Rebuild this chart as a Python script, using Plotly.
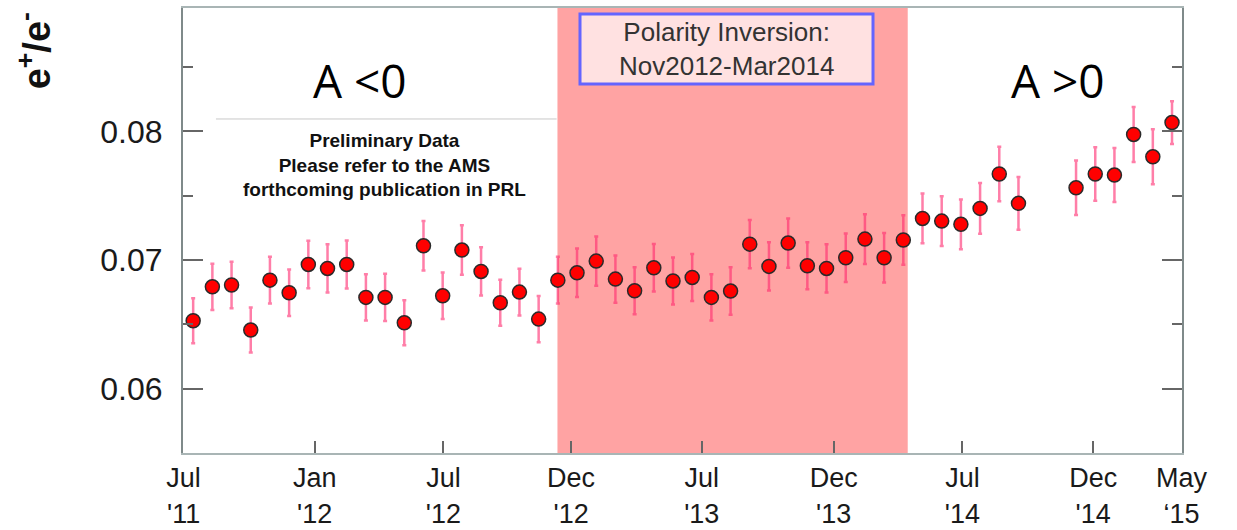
import plotly.graph_objects as go

# Bartels rotation number of each measurement (two rotations missing)
bartels = [2426, 2427, 2428, 2429, 2430, 2431, 2432, 2433, 2434, 2435,
           2436, 2437, 2438, 2439, 2440, 2441, 2442, 2443, 2444, 2445,
           2446, 2447, 2448, 2449, 2450, 2451, 2452, 2453, 2454, 2455,
           2456, 2457, 2458, 2459, 2460, 2461, 2462, 2463, 2464, 2465,
           2466, 2467, 2468, 2469, 2472, 2473, 2474, 2475, 2476, 2477]

# positron / electron ratio
ratio = [0.06528, 0.06792, 0.06806, 0.06456, 0.06844, 0.06746, 0.06966, 0.06935, 0.06966, 0.06710,
         0.06710, 0.06512, 0.07111, 0.06722, 0.07078, 0.06912, 0.06668, 0.06751, 0.06541, 0.06844,
         0.06901, 0.06992, 0.06852, 0.06761, 0.06940, 0.06838, 0.06865, 0.06710, 0.06759, 0.07124,
         0.06951, 0.07132, 0.06956, 0.06935, 0.07018, 0.07163, 0.07018, 0.07156, 0.07324, 0.07303,
         0.07278, 0.07402, 0.07669, 0.07441, 0.07562, 0.07669, 0.07661, 0.07977, 0.07803, 0.08069]

ratio_err = [0.00175, 0.00180, 0.00181, 0.00175, 0.00181, 0.00181, 0.00185, 0.00188, 0.00187, 0.00179,
             0.00184, 0.00175, 0.00192, 0.00181, 0.00192, 0.00188, 0.00179, 0.00181, 0.00179, 0.00181,
             0.00189, 0.00192, 0.00183, 0.00183, 0.00185, 0.00183, 0.00183, 0.00179, 0.00185, 0.00188,
             0.00187, 0.00192, 0.00183, 0.00188, 0.00189, 0.00193, 0.00192, 0.00193, 0.00194, 0.00194,
             0.00194, 0.00197, 0.00212, 0.00205, 0.00212, 0.00208, 0.00210, 0.00214, 0.00214, 0.00166]

# x tick positions (Bartels rotation units) and labels
tick_vals = [2425.50, 2432.33, 2439.04, 2445.69, 2452.50, 2459.37, 2466.08, 2472.89, 2477.49]
tick_text = ["Jul<br>'11", "Jan<br>'12", "Jul<br>'12", "Dec<br>'12", "Jul<br>'13",
             "Dec<br>'13", "Jul<br>'14", "Dec<br>'14", "May<br>\u201815"]

# polarity inversion period (Bartels rotation units)
inversion_start = 2444.98
inversion_end = 2463.23

x_range = [2425.47, 2477.52]
y_range = [0.0550, 0.0896]

fig = go.Figure()

fig.add_shape(type="rect", xref="x", yref="paper",
              x0=inversion_start, x1=inversion_end, y0=0, y1=1,
              fillcolor="#ffa3a3", line=dict(width=0), layer="below")

fig.add_trace(go.Scatter(
    x=bartels, y=ratio, mode="markers",
    marker=dict(symbol="circle", size=14, color="#ff0000",
                line=dict(color="#2a2a2a", width=1.5)),
    error_y=dict(type="data", array=ratio_err, visible=True,
                 color="rgba(255,40,110,0.6)", thickness=2.5, width=2),
    showlegend=False,
))

# "Preliminary Data" box top edge
fig.add_shape(type="line", xref="paper", yref="paper",
              x0=0.033, x1=0.374, y0=0.7506, y1=0.7506,
              line=dict(color="#c8c8c8", width=1))

fig.add_annotation(xref="paper", yref="paper", x=0.2022, y=0.648,
                   text="<b>Preliminary Data<br>Please refer to the AMS<br>forthcoming publication in PRL</b>",
                   showarrow=False, xanchor="center", yanchor="middle", align="center",
                   font=dict(family="Liberation Sans", size=19, color="#111111"))

# Polarity inversion box
fig.add_shape(type="rect", xref="paper", yref="paper",
              x0=0.3974, x1=0.6907, y0=0.8292, y1=0.9865,
              fillcolor="#ffe1e1", line=dict(color="#6464ff", width=3))
fig.add_annotation(xref="paper", yref="paper", x=0.5445, y=0.908,
                   text="Polarity Inversion:<br>Nov2012-Mar2014",
                   showarrow=False, xanchor="center", yanchor="middle", align="center",
                   font=dict(family="Liberation Sans", size=26, color="#333333"))

fig.add_annotation(xref="paper", yref="paper", x=0.177, y=0.838,
                   text="A <0", showarrow=False, xanchor="center", yanchor="middle",
                   font=dict(family="Open Sans", size=46, color="#000000"))
fig.add_annotation(xref="paper", yref="paper", x=0.876, y=0.838,
                   text="A >0", showarrow=False, xanchor="center", yanchor="middle",
                   font=dict(family="Open Sans", size=46, color="#000000"))

# y axis title
fig.add_annotation(xref="paper", yref="paper", x=-0.149, y=0.903,
                   text="<b>e<sup>+</sup>/e<sup>-</sup></b>", textangle=-90,
                   showarrow=False, xanchor="center", yanchor="middle",
                   font=dict(family="Liberation Sans", size=38, color="#111111"))

fig.update_layout(
    width=1237, height=530,
    margin=dict(l=183, r=55, t=8, b=77, autoexpand=False),
    paper_bgcolor="white", plot_bgcolor="white",
    xaxis=dict(range=x_range, tickmode="array", tickvals=tick_vals, ticktext=tick_text,
               ticks="inside", ticklen=12, tickwidth=2, tickcolor="#666666",
               showline=True, linecolor="#a9b5b5", linewidth=2, mirror=True,
               showgrid=False, zeroline=False, ticklabelstandoff=0, automargin=False,
               tickfont=dict(family="Liberation Sans", size=27, color="#1a1a1a")),
    yaxis=dict(range=y_range, tick0=0, dtick=0.01, tickformat=".2f",
               ticks="inside", ticklen=20, tickwidth=2, tickcolor="#666666",
               minor=dict(dtick=0.005, ticks="inside", ticklen=10, tickwidth=2, tickcolor="#666666"),
               showline=True, linecolor="#7f8a8a", linewidth=2, mirror="allticks",
               showgrid=False, zeroline=False, ticklabelstandoff=12, automargin=False,
               tickfont=dict(family="Liberation Sans", size=32, color="#1a1a1a")),
)

fig.write_html("out.html")
